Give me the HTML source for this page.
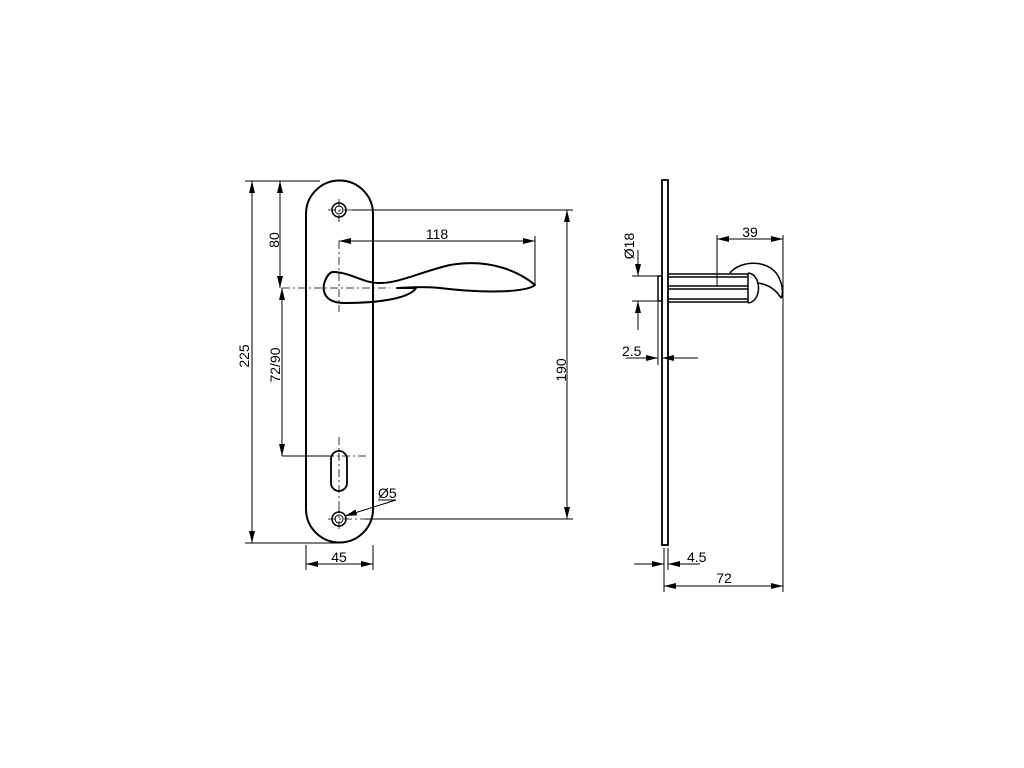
<!DOCTYPE html>
<html><head><meta charset="utf-8"><style>html,body{margin:0;padding:0;background:#fff}svg{display:block}</style></head>
<body>
<svg width="1024" height="768" viewBox="0 0 1024 768" xmlns="http://www.w3.org/2000/svg" font-family="Liberation Sans, sans-serif" font-size="14">
<defs>
<marker id="a" viewBox="0 0 12 6" refX="12" refY="3" markerWidth="12" markerHeight="6" orient="auto-start-reverse" markerUnits="userSpaceOnUse"><path d="M0,0 L12,3 L0,6 z" fill="#000"/></marker>
</defs>
<g fill="none" stroke="#000">
<path d="M306 214 A33.5 33.5 0 0 1 373 214 L373 509 A33.5 33.5 0 0 1 306 509 Z" stroke-width="2"/>
<circle cx="339" cy="210" r="7" stroke-width="1.5"/><circle cx="339" cy="210" r="4" stroke-width="1"/>
<circle cx="339" cy="519" r="7" stroke-width="1.5"/><circle cx="339" cy="519" r="4" stroke-width="1"/>
<rect x="331" y="451" width="16" height="40" rx="8" stroke-width="1.8"/>
<g stroke-width="0.8" stroke-dasharray="8,3,2,3">
<line x1="328" y1="210" x2="352" y2="210"/><line x1="339" y1="199" x2="339" y2="222"/>
<line x1="328" y1="519" x2="365" y2="519"/><line x1="339" y1="505" x2="339" y2="530"/>
<line x1="339" y1="437" x2="339" y2="505"/><line x1="310" y1="456" x2="366" y2="456"/>
<line x1="339" y1="241" x2="339" y2="312"/><line x1="282" y1="288" x2="390" y2="288"/>
</g>
<path d="M333 272 C350 272 365 284 380 283 C400 283 420 272 450 265 C490 258 520 272 535 285 C525 293 480 293 440 288 C420 286 405 288 397 288 L416 288 C410 298 380 303 345 303 C322 303 322 288 325 281 C327 276 330 272 333 272 Z" stroke-width="2" stroke-linejoin="round"/>
<g stroke-width="1">
<line x1="245" y1="181" x2="320" y2="181"/><line x1="245" y1="543" x2="340" y2="543"/>
<line x1="252" y1="181" x2="252" y2="543" marker-start="url(#a)" marker-end="url(#a)"/>
<line x1="280" y1="181" x2="280" y2="288" marker-start="url(#a)" marker-end="url(#a)"/>
<line x1="282" y1="288" x2="282" y2="456" marker-start="url(#a)" marker-end="url(#a)"/>
<line x1="282" y1="456" x2="330" y2="456"/>
<line x1="352" y1="210" x2="573" y2="210"/><line x1="365" y1="519" x2="573" y2="519"/>
<line x1="567" y1="210" x2="567" y2="519" marker-start="url(#a)" marker-end="url(#a)"/>
<line x1="339" y1="241" x2="535" y2="241" marker-start="url(#a)" marker-end="url(#a)"/>
<line x1="535" y1="236" x2="535" y2="284"/>
<line x1="306" y1="545" x2="306" y2="570"/><line x1="373" y1="545" x2="373" y2="570"/>
<line x1="306" y1="564" x2="373" y2="564" marker-start="url(#a)" marker-end="url(#a)"/>
<line x1="396" y1="500" x2="345" y2="516" marker-end="url(#a)"/>
<line x1="378" y1="500" x2="396" y2="500"/>
</g>
<rect x="662" y="180" width="6" height="365" stroke-width="1.8"/>
<rect x="658" y="276" width="4" height="25" stroke-width="1.5"/>
<g stroke-width="1.5">
<line x1="668" y1="274" x2="748" y2="274"/><line x1="668" y1="302" x2="748" y2="302"/>
<line x1="668" y1="277" x2="748" y2="277"/><line x1="668" y1="286" x2="748" y2="286"/>
<line x1="668" y1="289" x2="748" y2="289"/><line x1="668" y1="299" x2="748" y2="299"/>
<line x1="748" y1="273" x2="748" y2="303"/>
<path d="M748 273 C762 274 762 302 748 303" />
<path d="M730 273 C740 260 772 258 780 280 C784 290 782 297 781 298 C776 290 768 284 757 283" stroke-linejoin="round"/>
</g>
<g stroke-width="1">
<line x1="717" y1="235" x2="717" y2="286"/>
<line x1="717" y1="239" x2="783" y2="239" marker-start="url(#a)" marker-end="url(#a)"/>
<line x1="783" y1="235" x2="783" y2="592"/>
<line x1="664" y1="548" x2="664" y2="592"/>
<line x1="664" y1="586" x2="783" y2="586" marker-start="url(#a)" marker-end="url(#a)"/>
<line x1="668" y1="548" x2="668" y2="570"/>
<line x1="634" y1="564" x2="664" y2="564" marker-end="url(#a)"/>
<line x1="700" y1="564" x2="668" y2="564" marker-end="url(#a)"/>
<line x1="632" y1="276" x2="662" y2="276"/><line x1="632" y1="301" x2="662" y2="301"/>
<line x1="638" y1="250" x2="638" y2="276" marker-end="url(#a)"/>
<line x1="638" y1="330" x2="638" y2="301" marker-end="url(#a)"/>
<line x1="658" y1="302" x2="658" y2="365"/>
<line x1="626" y1="358" x2="658" y2="358" marker-end="url(#a)"/>
<line x1="698" y1="358" x2="662" y2="358" marker-end="url(#a)"/>
</g>
</g>
<g fill="#000">
<text x="437" y="239" text-anchor="middle">118</text>
<text x="339" y="562" text-anchor="middle">45</text>
<text x="378" y="498">Ø5</text>
<text transform="translate(249 356) rotate(-90)" text-anchor="middle">225</text>
<text transform="translate(279 240) rotate(-90)" text-anchor="middle">80</text>
<text transform="translate(280 365) rotate(-90)" text-anchor="middle">72/90</text>
<text transform="translate(566 370) rotate(-90)" text-anchor="middle">190</text>
<text x="750" y="237" text-anchor="middle">39</text>
<text x="724" y="583" text-anchor="middle">72</text>
<text x="687" y="562">4.5</text>
<text x="622" y="356">2.5</text>
<text transform="translate(634 246) rotate(-90)" text-anchor="middle">Ø18</text>
</g>
</svg>
</body></html>
